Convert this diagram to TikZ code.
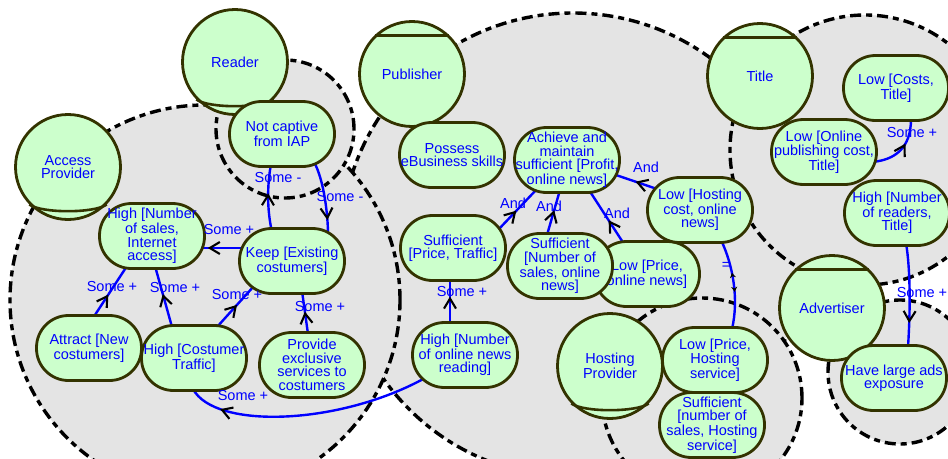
\documentclass[tikz,border=0pt]{standalone}
\usepackage{fontspec}
\setmainfont{Liberation Sans}
\usetikzlibrary{arrows.meta,decorations.markings}

\definecolor{linkblue}{RGB}{0,0,255}
\definecolor{elemfill}{RGB}{204,255,204}
\definecolor{elemedge}{RGB}{51,51,0}
\definecolor{scopegrey}{RGB}{228,228,228}

\pgfdeclarelayer{scopes}
\pgfdeclarelayer{links}
\pgfsetlayers{scopes,links,main}

\tikzset{
  every node/.style={font=\fontsize{14.5}{13.5}\selectfont, text=linkblue},
  scopeline/.style={fill=scopegrey, draw=black, line width=3.4pt, dash pattern=on 11pt off 5pt on 6pt off 5pt},
  actor/.style={circle, draw=elemedge, fill=elemfill, line width=2.8pt, minimum size=105pt, inner sep=0pt, align=center},
  actormark/.style={draw=elemedge, line width=2.6pt},
  goal/.style={rectangle, rounded corners=32pt, draw=elemedge, fill=elemfill, line width=2.8pt,
    minimum width=105pt, minimum height=65pt, inner sep=0pt, align=center},
  link/.style={draw=linkblue, line width=2.4pt},
  tipat/.style={postaction={decorate}, decoration={markings, mark=at position #1 with
    {\arrow{Straight Barb[color=black,length=10pt,width=12pt,line width=2.1pt]}}}},
  equalmarks/.style={postaction={decorate}, decoration={markings,
    mark=at position 0.41 with {\arrowreversed{Stealth[color=black,length=5pt,width=6pt]}},
    mark=at position 0.62 with {\arrow{Stealth[color=black,length=5pt,width=6pt]}}}},
  linklabel/.style={inner sep=0pt},
}

\begin{document}
\begin{tikzpicture}[x=1pt,y=-1pt]
\useasboundingbox (0,0) rectangle (948,458);

% actor boundaries
\begin{pgfonlayer}{scopes}
  \filldraw[scopeline] (573,245) circle[radius=232pt];  % Publisher
  \filldraw[scopeline] (865,150) circle[radius=135pt];  % Title
  \filldraw[scopeline] (702,398) circle[radius=100pt];  % Hosting Provider
  \filldraw[scopeline] (900,372) circle[radius=72pt];   % Advertiser
  \filldraw[scopeline] (205,300) circle[radius=195pt];  % Access Provider
  \filldraw[scopeline] (285,129) circle[radius=69pt];   % Reader
\end{pgfonlayer}

% actors
\node[actor] (reader) at (235,62) {Reader};
\node[actor] (ap) at (68,167) {Access\\Provider};
\node[actor] (pub) at (412,74) {Publisher};
\node[actor] (title) at (760,76) {Title};
\node[actor] (adv) at (832,308) {Advertiser};
\node[actor] (hp) at (610,366) {Hosting\\Provider};

% agent bars and role arcs
\draw[actormark] (pub.134) -- (pub.46);
\draw[actormark] (title.134) -- (title.46);
\draw[actormark] (adv.134) -- (adv.46);
\draw[actormark] (reader.-136) .. controls +(12,9) and +(-12,9) .. (reader.-44);
\draw[actormark] (ap.-136) .. controls +(12,9) and +(-12,9) .. (ap.-44);
\draw[actormark] (hp.-136) .. controls +(12,9) and +(-12,9) .. (hp.-44);

% goals
\node[goal] (nc) at (282,134) {Not captive\\from IAP};
\node[goal] (hns) at (152,236) {High [Number\\of sales,\\Internet\\access]};
\node[goal] (keep) at (292,261) {Keep [Existing\\costumers]};
\node[goal] (attract) at (89,348) {Attract [New\\costumers]};
\node[goal] (hct) at (194,358) {High [Costumer\\Traffic]};
\node[goal] (provide) at (312,365) {Provide\\exclusive\\services to\\costumers};
\node[goal] (possess) at (452,155) {Possess\\eBusiness skills};
\node[goal] (achieve) at (567,160) {Achieve and\\maintain\\sufficient [Profit,\\online news]};
\node[goal] (spt) at (453,248) {Sufficient\\{}[Price, Traffic]};
\node[goal] (lpon) at (647,274) {Low [Price,\\online news]};
\node[goal] (sns) at (560,266) {Sufficient\\{}[Number of\\sales, online\\news]};
\node[goal] (honr) at (465,355) {High [Number\\of online news\\reading]};
\node[goal] (lhc) at (700,210) {Low [Hosting\\cost, online\\news]};
\node[goal] (lct) at (896,88) {Low [Costs,\\Title]};
\node[goal] (lopc) at (824,152) {Low [Online\\publishing cost,\\Title]};
\node[goal] (hnr) at (897,213) {High [Number\\of readers,\\Title]};
\node[goal] (lphs) at (715,360) {Low [Price,\\Hosting\\service]};
\node[goal] (snhs) at (712,425) {Sufficient\\{}[number of\\sales, Hosting\\service]};
\node[goal] (hlae) at (894,378) {Have large ads\\exposure};

% contribution links
\begin{pgfonlayer}{links}
  \draw[link, tipat=0.57] ([shift={(-20,-29)}]keep.center) .. controls +(-5,-22) and +(-4,22) .. ([shift={(-11,30)}]nc.center);
  \draw[link, tipat=0.8] ([shift={(32,28)}]nc.center) .. controls +(10,18) and +(0,-20) .. ([shift={(36,-26)}]keep.center);
  \draw[link, tipat=0.83] ([shift={(-46,-13)}]keep.center) -- ([shift={(48,12)}]hns.center);
  \draw[link, tipat=0.45] ([shift={(4,-30)}]attract.center) -- ([shift={(-25,30)}]hns.center);
  \draw[link, tipat=0.54] ([shift={(-22,-31)}]hct.center) -- ([shift={(3,30)}]hns.center);
  \draw[link, tipat=0.54] ([shift={(23,-31)}]hct.center) -- ([shift={(-38,25)}]keep.center);
  \draw[link, tipat=0.52] ([shift={(-4,-31)}]provide.center) -- ([shift={(10,30)}]keep.center);
  \draw[link, tipat=0.86] ([shift={(-40,23)}]honr.center) .. controls (340,425) and (215,430) .. ([shift={(-1,31)}]hct.center);
  \draw[link, tipat=0.61] ([shift={(-15,-31)}]honr.center) -- ([shift={(-3,31)}]spt.center);
  \draw[link, tipat=0.47] ([shift={(45,-18)}]spt.center) -- ([shift={(-30,29)}]achieve.center);
  \draw[link, tipat=0.55] ([shift={(-13,-31)}]sns.center) -- ([shift={(-7,30)}]achieve.center);
  \draw[link, tipat=0.44] ([shift={(-23,-30)}]lpon.center) -- ([shift={(22,30)}]achieve.center);
  \draw[link, tipat=0.52] ([shift={(-40,-20)}]lhc.center) -- ([shift={(46,14)}]achieve.center);
  \draw[link, equalmarks] ([shift={(17,-31)}]lphs.center) .. controls +(7,-30) and +(12,25) .. ([shift={(21,30)}]lhc.center);
  \draw[link, tipat=0.61] ([shift={(48,10)}]lopc.center) .. controls (895,160) and (911,148) .. ([shift={(15,31)}]lct.center);
  \draw[link, tipat=0.77] ([shift={(9,30)}]hnr.center) .. controls +(5,30) and +(2,-30) .. ([shift={(14,-31)}]hlae.center);
\end{pgfonlayer}

% link labels
\node[linklabel] (t1) at (278,178) {Some -};
\node[linklabel] (t2) at (340,197) {Some -};
\node[linklabel] (t3) at (229,230) {Some +};
\node[linklabel] (t4) at (112,287) {Some +};
\node[linklabel] (t5) at (175,288) {Some +};
\node[linklabel] (t6) at (237,295) {Some +};
\node[linklabel] (t7) at (320,307) {Some +};
\node[linklabel] (t8) at (243,396) {Some +};
\node[linklabel] (t9) at (462,292) {Some +};
\node[linklabel] (t10) at (513,203) {And};
\node[linklabel] (t11) at (549,206) {And};
\node[linklabel] (t12) at (617,213) {And};
\node[linklabel] (t13) at (646,167) {And};
\node[linklabel] (t14) at (726,266) {=};
\node[linklabel] (t15) at (912,133) {Some +};
\node[linklabel] (t16) at (922,293) {Some +};
\end{tikzpicture}
\end{document}
